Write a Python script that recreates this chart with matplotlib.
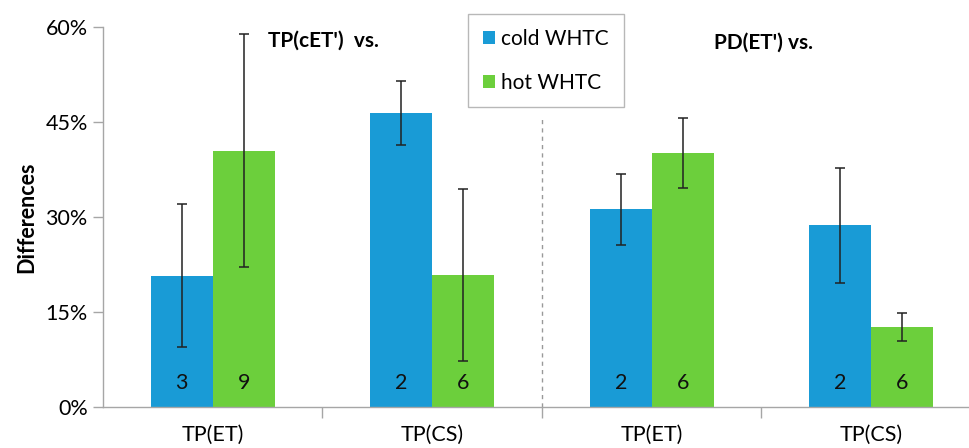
import matplotlib
matplotlib.use("Agg")
import matplotlib.pyplot as plt
import numpy as np
from matplotlib.ticker import FuncFormatter

plt.rcParams['font.family'] = ['Lato', 'DejaVu Sans']

categories = ["TP(ET)", "TP(CS)", "TP(ET)", "TP(CS)"]
cold_vals = [20.7, 46.4, 31.2, 28.7]
cold_err = [11.3, 5.1, 5.6, 9.1]
hot_vals = [40.5, 20.9, 40.1, 12.7]
hot_err = [18.4, 13.6, 5.5, 2.2]
cold_n = ["3", "2", "2", "2"]
hot_n = ["9", "6", "6", "6"]
series_names = ["cold WHTC", "hot WHTC"]
group_titles = ["TP(cET')  vs.", "PD(ET') vs."]

blue = "#199bd6"
green = "#6ccf3c"
grey = "#a6a6a6"

fig = plt.figure(figsize=(9.7, 4.48), dpi=100)
ax = fig.add_axes([103 / 970, 1 - 407 / 448, 878 / 970, 380 / 448])

x = np.arange(len(categories))
w = 0.2825
err_kw = dict(ecolor="#222222", elinewidth=1.1, capsize=3.6, capthick=1.1)
ax.bar(x - w / 2, cold_vals, w, color=blue, label=series_names[0],
       yerr=cold_err, error_kw=err_kw, zorder=2)
ax.bar(x + w / 2, hot_vals, w, color=green, label=series_names[1],
       yerr=hot_err, error_kw=err_kw, zorder=2)

for i in range(len(categories)):
    ax.text(x[i] - w / 2, 3.8, cold_n[i], ha="center", va="center", fontsize=15.5, color="#111111", zorder=3)
    ax.text(x[i] + w / 2, 3.8, hot_n[i], ha="center", va="center", fontsize=15.5, color="#111111", zorder=3)

# separator between the two comparisons
ax.axvline(1.5, ymin=0, ymax=46 / 60, color="#999999", linestyle=(0, (3, 3)), linewidth=1, zorder=1)

ax.text(0.252, 57.9, group_titles[0], fontsize=15, fontweight="bold", va="center", ha="left")
ax.text(2.284, 57.5, group_titles[1], fontsize=15, fontweight="bold", va="center", ha="left")

ax.set_xlim(-0.5, 3.5)
ax.set_ylim(0, 60)
ax.set_yticks([0, 15, 30, 45, 60])
ax.yaxis.set_major_formatter(FuncFormatter(lambda v, p: "%d%%" % v))
ax.set_xticks(x)
ax.set_xticklabels(categories)
ax.set_xticks([0.5, 1.5, 2.5], minor=True)
ax.tick_params(axis="x", which="major", length=0, labelsize=15.5, pad=13)
ax.tick_params(axis="x", which="minor", length=8, color=grey, width=1)
ax.tick_params(axis="y", length=7, color=grey, width=1, labelsize=15.5, pad=4)

for s in ["top", "right"]:
    ax.spines[s].set_visible(False)
for s in ["left", "bottom"]:
    ax.spines[s].set_color(grey)
    ax.spines[s].set_linewidth(1)

ax.set_ylabel("Differences", fontsize=15.5, fontweight="bold", labelpad=6)

leg = ax.legend(loc="upper left", bbox_to_anchor=(468 / 970, 1 - 14 / 448),
                bbox_transform=fig.transFigure, borderaxespad=0, fontsize=15,
                frameon=True, fancybox=False, edgecolor=grey, handlelength=0.6,
                handleheight=0.6, handletextpad=0.3, labelspacing=1.15, borderpad=0.7)
leg.get_frame().set_linewidth(1)

fig.savefig("out.png", dpi=100)
